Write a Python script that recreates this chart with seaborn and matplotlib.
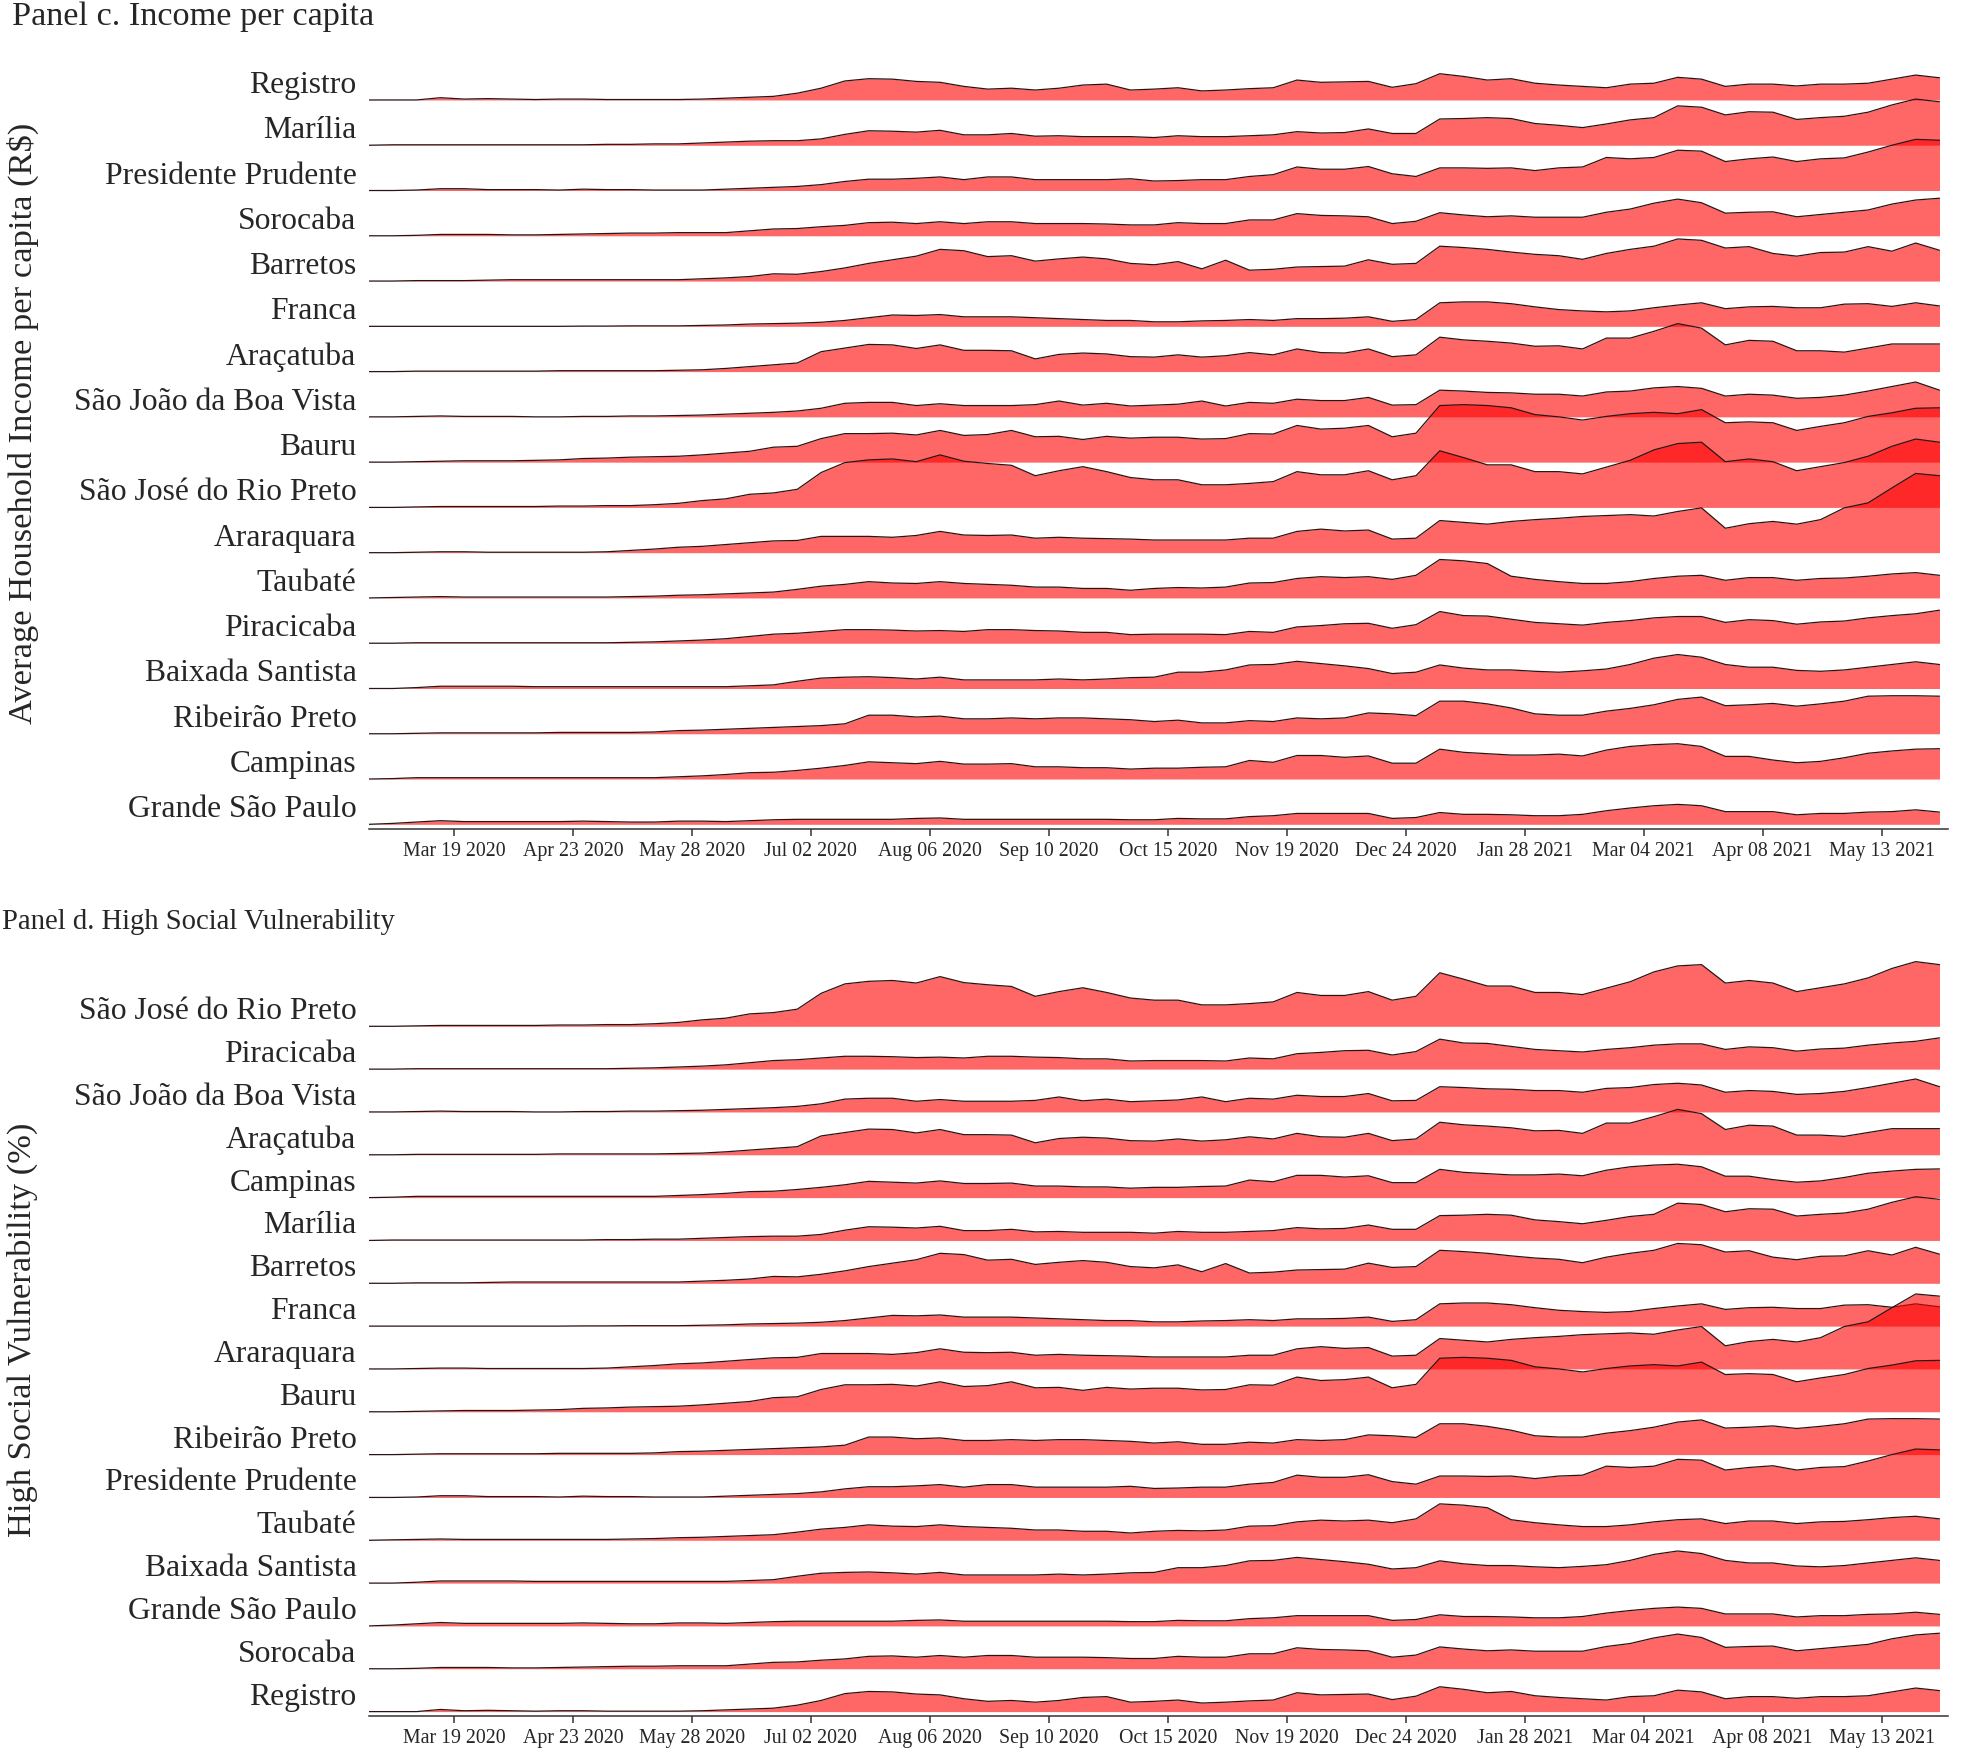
import pandas as pd
import matplotlib.pyplot as plt
import seaborn as sns

# weekly dates, Feb 23 2020 -> May 30 2021
dates = pd.date_range('2020-02-23', periods=67, freq='7D')
tick_dates = pd.date_range('2020-03-19', periods=13, freq='35D')

# ridge heights (in units of ridge spacing)
registro = [0, 0, 0, 0.05, 0.02, 0.03, 0.02, 0.01, 0.02, 0.02, 0.01, 0.01, 0.01, 0.01, 0.02, 0.04, 0.06, 0.08, 0.15, 0.26, 0.42, 0.47, 0.46, 0.41, 0.39, 0.30, 0.24, 0.26, 0.22, 0.26, 0.33, 0.35, 0.22,
            0.24, 0.27, 0.20, 0.22, 0.25, 0.27, 0.44, 0.39, 0.40, 0.41, 0.28, 0.36, 0.58, 0.52, 0.44, 0.47, 0.37, 0.33, 0.30, 0.27, 0.35, 0.37, 0.50, 0.46, 0.30, 0.35, 0.35, 0.31, 0.35, 0.35, 0.37, 0.46, 0.55, 0.49]
marilia = [0, 0.01, 0.01, 0.01, 0.01, 0.01, 0.01, 0.01, 0.01, 0.01, 0.02, 0.02, 0.03, 0.03, 0.05, 0.07, 0.09, 0.10, 0.10, 0.14, 0.24, 0.32, 0.31, 0.29, 0.33, 0.23, 0.23, 0.26, 0.20, 0.21, 0.19, 0.19, 0.19,
           0.17, 0.21, 0.19, 0.19, 0.21, 0.23, 0.30, 0.27, 0.28, 0.36, 0.26, 0.26, 0.58, 0.59, 0.61, 0.59, 0.48, 0.44, 0.39, 0.47, 0.56, 0.61, 0.87, 0.84, 0.67, 0.74, 0.73, 0.57, 0.61, 0.64, 0.73, 0.89, 1.02, 0.96]
pres_prudente = [0, 0, 0.01, 0.04, 0.04, 0.02, 0.02, 0.02, 0.01, 0.03, 0.02, 0.02, 0.01, 0.01, 0.01, 0.03, 0.05, 0.07, 0.09, 0.13, 0.20, 0.25, 0.25, 0.27, 0.30, 0.24, 0.30, 0.30, 0.24, 0.24, 0.24, 0.24, 0.26,
                 0.21, 0.22, 0.24, 0.24, 0.31, 0.35, 0.52, 0.47, 0.47, 0.53, 0.37, 0.31, 0.50, 0.50, 0.49, 0.50, 0.44, 0.50, 0.52, 0.73, 0.70, 0.73, 0.89, 0.87, 0.64, 0.70, 0.74, 0.64, 0.70, 0.72, 0.85, 1.00, 1.13, 1.11]
sorocaba = [0, 0, 0.01, 0.03, 0.03, 0.03, 0.02, 0.02, 0.03, 0.04, 0.05, 0.06, 0.06, 0.07, 0.07, 0.07, 0.11, 0.15, 0.16, 0.20, 0.23, 0.29, 0.30, 0.27, 0.31, 0.27, 0.31, 0.31, 0.27, 0.27, 0.27, 0.26, 0.24,
            0.24, 0.29, 0.27, 0.27, 0.35, 0.35, 0.49, 0.45, 0.44, 0.42, 0.27, 0.32, 0.51, 0.46, 0.42, 0.44, 0.41, 0.41, 0.41, 0.52, 0.59, 0.72, 0.81, 0.73, 0.50, 0.52, 0.53, 0.42, 0.47, 0.52, 0.57, 0.70, 0.79, 0.83]
barretos = [0, 0, 0.01, 0.01, 0.01, 0.02, 0.03, 0.03, 0.03, 0.03, 0.03, 0.03, 0.03, 0.03, 0.05, 0.07, 0.10, 0.16, 0.15, 0.21, 0.29, 0.39, 0.47, 0.55, 0.70, 0.67, 0.54, 0.56, 0.44, 0.49, 0.53, 0.49, 0.39,
            0.36, 0.43, 0.27, 0.46, 0.24, 0.26, 0.31, 0.32, 0.33, 0.47, 0.37, 0.39, 0.77, 0.74, 0.70, 0.64, 0.59, 0.56, 0.48, 0.61, 0.70, 0.77, 0.93, 0.90, 0.73, 0.76, 0.61, 0.55, 0.63, 0.64, 0.76, 0.66, 0.84, 0.68]
franca = [0, 0, 0, 0, 0, 0, 0, 0, 0, 0.005, 0.005, 0.01, 0.01, 0.01, 0.02, 0.03, 0.05, 0.06, 0.07, 0.09, 0.13, 0.19, 0.25, 0.24, 0.26, 0.21, 0.21, 0.21, 0.19, 0.17, 0.15, 0.13, 0.13,
          0.10, 0.10, 0.12, 0.13, 0.15, 0.13, 0.17, 0.17, 0.18, 0.21, 0.11, 0.15, 0.52, 0.54, 0.54, 0.50, 0.43, 0.37, 0.34, 0.32, 0.34, 0.41, 0.47, 0.52, 0.39, 0.43, 0.44, 0.41, 0.41, 0.49, 0.50, 0.44, 0.52, 0.45]
aracatuba = [0, 0, 0.01, 0.01, 0.01, 0.01, 0.01, 0.01, 0.02, 0.02, 0.02, 0.02, 0.02, 0.03, 0.04, 0.07, 0.11, 0.15, 0.19, 0.44, 0.52, 0.60, 0.59, 0.51, 0.59, 0.47, 0.47, 0.46, 0.28, 0.38, 0.41, 0.39, 0.33,
             0.32, 0.37, 0.32, 0.35, 0.42, 0.37, 0.50, 0.42, 0.41, 0.50, 0.33, 0.37, 0.76, 0.70, 0.67, 0.63, 0.56, 0.57, 0.50, 0.74, 0.74, 0.89, 1.06, 0.96, 0.59, 0.69, 0.67, 0.46, 0.46, 0.43, 0.52, 0.61, 0.61, 0.61]
sjbv = [0, 0, 0.01, 0.02, 0.01, 0.01, 0.01, 0, 0, 0.01, 0.01, 0.02, 0.02, 0.03, 0.04, 0.06, 0.08, 0.10, 0.13, 0.19, 0.30, 0.32, 0.32, 0.25, 0.29, 0.25, 0.25, 0.25, 0.27, 0.35, 0.26, 0.30, 0.24,
        0.26, 0.28, 0.35, 0.24, 0.32, 0.30, 0.39, 0.36, 0.36, 0.43, 0.26, 0.27, 0.59, 0.57, 0.54, 0.53, 0.50, 0.50, 0.46, 0.55, 0.57, 0.64, 0.67, 0.63, 0.46, 0.50, 0.48, 0.41, 0.43, 0.48, 0.57, 0.67, 0.77, 0.59]
bauru = [0, 0, 0.01, 0.02, 0.03, 0.03, 0.03, 0.04, 0.05, 0.08, 0.09, 0.11, 0.12, 0.13, 0.16, 0.20, 0.24, 0.33, 0.35, 0.52, 0.63, 0.63, 0.64, 0.60, 0.70, 0.59, 0.61, 0.70, 0.56, 0.57, 0.50, 0.57, 0.53,
         0.55, 0.55, 0.51, 0.52, 0.63, 0.62, 0.81, 0.73, 0.75, 0.81, 0.56, 0.64, 1.25, 1.27, 1.25, 1.20, 1.05, 1.00, 0.93, 1.01, 1.07, 1.10, 1.07, 1.16, 0.87, 0.89, 0.87, 0.70, 0.79, 0.87, 1.01, 1.09, 1.19, 1.20]
sjrp = [0, 0, 0.01, 0.02, 0.02, 0.02, 0.02, 0.02, 0.03, 0.03, 0.04, 0.04, 0.06, 0.09, 0.15, 0.19, 0.29, 0.32, 0.40, 0.77, 0.99, 1.05, 1.07, 1.01, 1.16, 1.02, 0.97, 0.93, 0.70, 0.81, 0.90, 0.79, 0.66,
        0.61, 0.61, 0.50, 0.50, 0.53, 0.57, 0.79, 0.72, 0.72, 0.81, 0.61, 0.70, 1.25, 1.10, 0.94, 0.94, 0.79, 0.79, 0.74, 0.89, 1.04, 1.27, 1.41, 1.44, 1.01, 1.07, 1.01, 0.81, 0.90, 0.99, 1.13, 1.35, 1.51, 1.44]
araraquara = [0, 0, 0.01, 0.02, 0.02, 0.01, 0.01, 0.01, 0.01, 0.01, 0.02, 0.05, 0.08, 0.12, 0.14, 0.18, 0.22, 0.26, 0.27, 0.36, 0.36, 0.36, 0.34, 0.38, 0.47, 0.39, 0.38, 0.39, 0.32, 0.34, 0.32, 0.31, 0.30,
              0.28, 0.28, 0.28, 0.28, 0.32, 0.32, 0.47, 0.52, 0.48, 0.50, 0.30, 0.32, 0.71, 0.67, 0.63, 0.69, 0.73, 0.76, 0.80, 0.82, 0.84, 0.81, 0.91, 0.99, 0.54, 0.64, 0.69, 0.63, 0.73, 0.99, 1.10, 1.43, 1.75, 1.70]
taubate = [0, 0.01, 0.02, 0.03, 0.02, 0.02, 0.02, 0.02, 0.02, 0.02, 0.02, 0.03, 0.04, 0.06, 0.07, 0.09, 0.11, 0.13, 0.19, 0.26, 0.30, 0.36, 0.33, 0.32, 0.36, 0.32, 0.30, 0.28, 0.24, 0.24, 0.21, 0.21, 0.17,
           0.21, 0.23, 0.22, 0.24, 0.33, 0.34, 0.43, 0.47, 0.45, 0.47, 0.41, 0.50, 0.85, 0.82, 0.76, 0.48, 0.41, 0.36, 0.32, 0.32, 0.36, 0.43, 0.48, 0.50, 0.39, 0.45, 0.45, 0.39, 0.43, 0.44, 0.48, 0.53, 0.56, 0.50]
piracicaba = [0, 0, 0.01, 0.01, 0.01, 0.01, 0.01, 0.01, 0.01, 0.01, 0.01, 0.02, 0.03, 0.05, 0.07, 0.10, 0.15, 0.20, 0.22, 0.26, 0.30, 0.30, 0.29, 0.27, 0.28, 0.26, 0.30, 0.30, 0.28, 0.27, 0.24, 0.24, 0.19,
              0.20, 0.20, 0.20, 0.19, 0.26, 0.24, 0.36, 0.39, 0.43, 0.44, 0.33, 0.41, 0.70, 0.61, 0.60, 0.53, 0.46, 0.43, 0.40, 0.46, 0.50, 0.56, 0.59, 0.59, 0.46, 0.52, 0.50, 0.42, 0.47, 0.49, 0.56, 0.61, 0.65, 0.73]
baixada = [0, 0, 0.02, 0.05, 0.05, 0.05, 0.05, 0.04, 0.04, 0.04, 0.04, 0.04, 0.04, 0.04, 0.04, 0.04, 0.06, 0.08, 0.16, 0.23, 0.25, 0.26, 0.24, 0.21, 0.25, 0.19, 0.19, 0.19, 0.19, 0.21, 0.19, 0.21, 0.24,
           0.25, 0.36, 0.36, 0.41, 0.52, 0.53, 0.60, 0.55, 0.50, 0.44, 0.33, 0.36, 0.52, 0.45, 0.41, 0.41, 0.38, 0.36, 0.39, 0.43, 0.53, 0.67, 0.75, 0.69, 0.53, 0.47, 0.47, 0.40, 0.38, 0.41, 0.47, 0.53, 0.59, 0.53]
ribeirao = [0, 0, 0.01, 0.02, 0.02, 0.02, 0.02, 0.02, 0.03, 0.03, 0.03, 0.03, 0.04, 0.07, 0.08, 0.10, 0.12, 0.14, 0.16, 0.18, 0.22, 0.41, 0.41, 0.37, 0.39, 0.33, 0.33, 0.35, 0.33, 0.35, 0.35, 0.33, 0.31,
            0.27, 0.30, 0.24, 0.24, 0.29, 0.27, 0.35, 0.33, 0.35, 0.46, 0.44, 0.40, 0.72, 0.72, 0.66, 0.57, 0.44, 0.41, 0.41, 0.50, 0.56, 0.64, 0.76, 0.81, 0.62, 0.64, 0.67, 0.61, 0.66, 0.72, 0.83, 0.84, 0.84, 0.83]
campinas = [0, 0.01, 0.03, 0.03, 0.03, 0.03, 0.03, 0.03, 0.03, 0.03, 0.03, 0.03, 0.03, 0.05, 0.07, 0.10, 0.14, 0.15, 0.19, 0.24, 0.30, 0.38, 0.36, 0.34, 0.39, 0.33, 0.33, 0.34, 0.27, 0.27, 0.25, 0.25, 0.22,
            0.24, 0.24, 0.26, 0.27, 0.41, 0.37, 0.52, 0.52, 0.48, 0.51, 0.35, 0.35, 0.66, 0.59, 0.56, 0.53, 0.53, 0.55, 0.51, 0.64, 0.72, 0.76, 0.78, 0.72, 0.50, 0.50, 0.42, 0.36, 0.39, 0.47, 0.57, 0.62, 0.66, 0.67]
grande_sp = [0, 0.02, 0.05, 0.08, 0.06, 0.06, 0.06, 0.06, 0.06, 0.07, 0.06, 0.05, 0.05, 0.07, 0.07, 0.06, 0.08, 0.10, 0.11, 0.11, 0.11, 0.11, 0.11, 0.13, 0.14, 0.11, 0.11, 0.11, 0.11, 0.11, 0.11, 0.11, 0.10,
             0.10, 0.13, 0.12, 0.12, 0.17, 0.19, 0.24, 0.24, 0.24, 0.24, 0.13, 0.15, 0.26, 0.22, 0.22, 0.21, 0.19, 0.19, 0.22, 0.30, 0.36, 0.41, 0.44, 0.41, 0.28, 0.28, 0.28, 0.21, 0.24, 0.24, 0.27, 0.28, 0.32, 0.27]

series = {
    'Registro': registro, 'Marília': marilia, 'Presidente Prudente': pres_prudente,
    'Sorocaba': sorocaba, 'Barretos': barretos, 'Franca': franca, 'Araçatuba': aracatuba,
    'São João da Boa Vista': sjbv, 'Bauru': bauru, 'São José do Rio Preto': sjrp,
    'Araraquara': araraquara, 'Taubaté': taubate, 'Piracicaba': piracicaba,
    'Baixada Santista': baixada, 'Ribeirão Preto': ribeirao, 'Campinas': campinas,
    'Grande São Paulo': grande_sp,
}

# ridge order, top to bottom
order_c = ['Registro', 'Marília', 'Presidente Prudente', 'Sorocaba', 'Barretos', 'Franca',
           'Araçatuba', 'São João da Boa Vista', 'Bauru', 'São José do Rio Preto', 'Araraquara',
           'Taubaté', 'Piracicaba', 'Baixada Santista', 'Ribeirão Preto', 'Campinas', 'Grande São Paulo']
order_d = ['São José do Rio Preto', 'Piracicaba', 'São João da Boa Vista', 'Araçatuba', 'Campinas',
           'Marília', 'Barretos', 'Franca', 'Araraquara', 'Bauru', 'Ribeirão Preto',
           'Presidente Prudente', 'Taubaté', 'Baixada Santista', 'Grande São Paulo', 'Sorocaba', 'Registro']

sns.set_theme(style='white')
plt.rcParams['font.family'] = ['Liberation Serif', 'DejaVu Serif']

W, H = 1965, 1752
fig = plt.figure(figsize=(W / 100, H / 100), dpi=100)


def ridges(ax, order, ylim):
    n = len(order)
    for k, name in enumerate(order):
        base = n - 1 - k
        top = [base + v for v in series[name]]
        ax.fill_between(dates, base, top, color='red', alpha=0.6, lw=0, zorder=2 * k)
        sns.lineplot(x=dates, y=top, ax=ax, color='#2a1414', lw=0.9, zorder=2 * k + 1)
    ax.set_xlim(dates[0], dates[-1] + pd.Timedelta(days=2.5))
    ax.set_ylim(*ylim)
    ax.set_yticks(range(n - 1, -1, -1))
    ax.set_yticklabels(order, fontsize=22.8)
    for t in ax.get_yticklabels():
        t.set_verticalalignment('bottom')
    ax.tick_params(axis='y', length=0, pad=9)
    ax.set_xticks(tick_dates)
    ax.set_xticklabels([d.strftime('%b %d %Y') for d in tick_dates], fontsize=14.3)
    ax.tick_params(axis='x', bottom=True, length=5, width=1.1, color='#333333', pad=4.5)
    ax.set_xlabel('')
    ax.set_ylabel('')
    for s in ['left', 'right', 'top']:
        ax.spines[s].set_visible(False)
    ax.spines['bottom'].set_color('#333333')
    ax.spines['bottom'].set_linewidth(1.1)
    ax.grid(False)


x0, x1 = 369 / W, 1948 / W
ax_c = fig.add_axes([x0, 1 - 828.7 / H, x1 - x0, (828.7 - 60) / H])
ridges(ax_c, order_c, (-0.097, 16 + 40 / 45.3))
ax_d = fig.add_axes([x0, 1 - 1715.5 / H, x1 - x0, (1715.5 - 950) / H])
ridges(ax_d, order_d, (-0.091, 16 + 76.3 / 42.83))

fig.text(12.5 / W, 1 - 17 / H, 'Panel c. Income per capita', fontsize=24.7, ha='left', va='center')
fig.text(2 / W, 1 - 922 / H, 'Panel d. High Social Vulnerability', fontsize=20.6, ha='left', va='center')
fig.text(22.5 / W, 1 - 423 / H, 'Average Household Income per capita (R$)', fontsize=24.8,
         rotation=90, ha='center', va='center')
fig.text(22.5 / W, 1 - 1330 / H, 'High Social Vulnerability (%)', fontsize=24.8,
         rotation=90, ha='center', va='center')

fig.savefig('out.png', dpi=100)
